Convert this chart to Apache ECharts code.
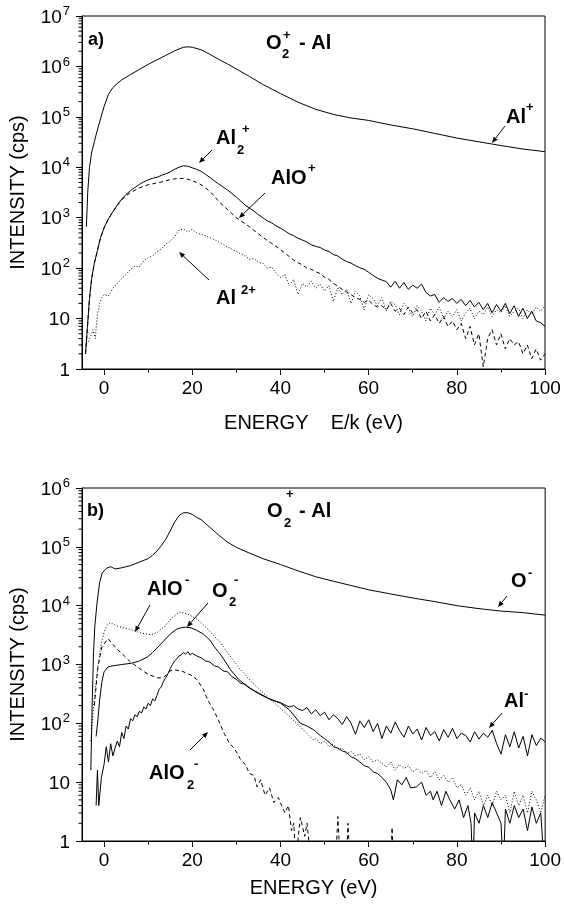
<!DOCTYPE html>
<html>
<head>
<meta charset="utf-8">
<script src="https://cdn.jsdelivr.net/npm/echarts@6/dist/echarts.min.js"></script>
<style>html,body{margin:0;padding:0;background:#fff}#c{width:564px;height:905px}</style>
</head>
<body>
<div id="c"></div>
<script>
// ---------------- DATA (energy eV, intensity cps) ----------------
// Panel a) positive ions
const alPlus = [[-4,660],[-3.7,3200],[-3.3,10000],[-2.8,20000],[-2.2,32000],[-1.7,48000],[-1,79000],[0,160000],[1,280000],[2,380000],[3,460000],[4,540000],[6,690000],[8,870000],[10,1100000],[12,1350000],[14,1660000],[16,2040000],[18,2400000],[19,2450000],[20,2400000],[22,2140000],[24,1740000],[26,1380000],[28,1120000],[30,890000],[33,630000],[36,440000],[40,290000],[44,195000],[48,141000],[52,112000],[56,95000],[60,85000],[65,69000],[70,58000],[75,47000],[80,38000],[85,32000],[90,27000],[95,23000],[100,20400]];

const al2Plus = [[-4.2,2],[-3.8,6.3],[-3.3,25],[-2.8,63],[-2.2,126],[-1.5,224],[-0.8,400],[0,630],[1,955],[2,1320],[3,1780],[4,2340],[5,2880],[6,3470],[7,3980],[8,4570],[9,5130],[10,5620],[11,6030],[12,6310],[13,6920],[14,7410],[15,8130],[16,9120],[17,10000],[18,10700],[19,10500],[20,9770],[21,9120],[22,8320],[23,7240],[24,6310],[25,5370],[26,4680],[27,4070],[28,3550],[29,3020],[30,2570],[31,2140],[32,1780],[33,1550],[34,1350],[35,1150],[36,1000],[37,870],[38,790],[39,690],[40,620],[41,550],[42,480],[43,440],[44,390],[45,360],[46,330],[47,290],[48,270],[49,257],[50,229],[51,214],[52,186],[53,174],[54,151],[55,135],[56,126],[57,112],[58,102],[59,95],[60,83],[61,72],[62,63],[63,58],[64,54],[65,42],[66,55],[67,40],[68,52],[69,38],[70,46],[71,40],[72,48],[73,33],[74,28],[75,30],[76,21],[77,26],[78,22],[79,25],[80,20],[81,24],[82,18],[83,23],[84,17],[85,21],[86,15],[87,20],[88,13],[89,19],[90,14],[91,20],[92,12.6],[93,18],[94,11],[95,16],[96,10],[97,14],[98,9],[99,8.3],[100,7]];

const aloPlus = [[-4.2,2],[-3.8,6],[-3.3,25],[-2.8,63],[-2.2,126],[-1.5,224],[-0.8,400],[0,630],[1,950],[2,1300],[3,1750],[4,2250],[5,2700],[6,3150],[7,3500],[8,3900],[9,4200],[10,4500],[11,4700],[12,4900],[13,5100],[14,5400],[15,5700],[16,5900],[17,6000],[18,6000],[19,5800],[20,5400],[21,5000],[22,4500],[23,3900],[24,3300],[25,2700],[26,2100],[27,1750],[28,1450],[29,1200],[30,1000],[31,870],[32,760],[33,660],[34,560],[35,480],[36,410],[37,355],[38,310],[39,270],[40,235],[41,200],[42,170],[43,145],[44,128],[45,115],[46,100],[47,95],[48,85],[49,78],[50,66],[51,60],[52,50],[53,44],[54,38],[55,34],[56,30],[57,26],[58,24],[59,21],[60,23],[61,19],[62,17],[63,18],[64,15],[65,20],[66,14],[67,16],[68,12],[69,17],[70,13],[71,15],[72,10],[73,14],[74,9],[75,12],[76,8],[77,11],[78,7],[79,9],[80,6],[81,8],[82,4],[83,7],[84,3],[85,5],[86,1.1],[87,4],[88,6],[89,3],[90,5],[91,2.5],[92,4],[93,3],[94,3.5],[95,2],[96,3],[97,1.6],[98,2.5],[99,1.5],[100,2]];

const al2p2 = [[-3.5,3.5],[-3,4.5],[-2.5,6],[-2,4],[-1.5,12],[-1,20],[-0.5,26],[0,30],[1,28],[2,40],[3,50],[4,62],[5,75],[6,95],[7,110],[8,105],[9,140],[10,160],[11,175],[12,210],[13,240],[14,300],[15,340],[16,420],[17,560],[18,600],[19,520],[20,590],[21,500],[22,470],[23,440],[24,400],[25,370],[26,330],[27,300],[28,260],[29,240],[30,215],[31,190],[32,175],[33,150],[34,155],[35,130],[36,125],[37,100],[38,105],[39,80],[40,66],[41,75],[42,45],[43,60],[44,30],[45,50],[46,42],[47,55],[48,40],[49,48],[50,35],[51,45],[52,22],[53,40],[54,30],[55,38],[56,20],[57,35],[58,28],[59,15],[60,30],[61,25],[62,18],[63,26],[64,14],[65,22],[66,19],[67,12],[68,20],[69,16],[70,11],[71,18],[72,14],[73,9],[74,16],[75,12],[76,17],[77,10],[78,14],[79,11],[80,15],[81,9],[82,13],[83,16],[84,10],[85,14],[86,12],[87,17],[88,11],[89,15],[90,13],[91,18],[92,11],[93,14],[94,16],[95,10],[96,15],[97,12],[98,17],[99,14],[100,18]];

// Panel b) negative ions
const oMinus = [[-3,16],[-2.7,200],[-2.4,1500],[-2.1,4400],[-1.6,11000],[-1,25000],[-0.4,36000],[0.5,43000],[1.5,46000],[2.5,42000],[4,44000],[6,48000],[8,55000],[10,63000],[11,72000],[12,85000],[13,105000],[14,135000],[15,186000],[16,263000],[17,340000],[18,380000],[19,380000],[20,355000],[21,316000],[22,290000],[24,214000],[26,158000],[28,120000],[30,98000],[33,78000],[36,63000],[40,50000],[44,39000],[48,31000],[52,26000],[56,22000],[60,18600],[65,15800],[70,13500],[75,11700],[80,10000],[85,8900],[90,8100],[95,7600],[100,6900]];

const o2Minus = [[-1.8,60],[-1.4,115],[-1,250],[-0.5,500],[0,750],[0.9,910],[2,950],[4,1000],[6.2,1050],[8,1150],[9.9,1350],[11,1600],[12,1900],[13.7,2600],[15,3300],[16.5,4000],[17.4,4200],[18.5,4300],[19.7,4200],[21,3800],[22.5,3300],[24,2600],[25,2000],[26.5,1450],[28.7,810],[30.5,560],[32.5,420],[35,320],[37,270],[40,220],[42,170],[44.5,100],[46,90],[47.5,78],[49,62],[50,55],[51,48],[52,40],[53,38],[54,34],[55,32],[56,27],[57,25],[58,22],[59,19],[60,18],[61,15],[62,14],[63,12],[64,10],[65,7.4],[65.6,5],[66.5,11],[67.5,9],[68.5,12],[69.5,8],[70.8,8.3],[72,10],[73,6],[74,7],[74.6,5],[75.5,7],[76.5,4],[77.5,7],[78.4,5],[79.5,3.5],[80.5,5],[81.5,2.5],[82.5,4],[83.2,2],[83.6,0.3],[84,3],[85,2],[86,4],[87,2.5],[88,4.5],[89,3],[90,2],[90.5,0.3],[91,3.5],[92,2],[93,4],[94,2.5],[95,3.5],[96,1.5],[97,3.8],[98,2],[99,3],[99.7,0.5]];

const aloMinus = [[-3,50],[-2.5,150],[-2.1,320],[-1.5,800],[-1,1500],[-0.6,2300],[0,3500],[0.6,4600],[1.3,5100],[2,4900],[3,4500],[4.5,4200],[6.2,3900],[8.5,3400],[10.7,3200],[12,3500],[13.7,4400],[15.5,6300],[17.1,7800],[19,7200],[21.2,5800],[23.5,4000],[26.5,2300],[28.5,1400],[31,810],[33.5,500],[36.2,320],[40,180],[44,95],[47.5,52],[48,55],[49,45],[50,50],[51,40],[52,45],[53,35],[54,38],[55,30],[56,34],[57,28],[58,30],[59,24],[60,27],[61,22],[62,24],[63,21],[64,18],[65,22],[66,16],[67,20],[68,17],[69,19],[70,15],[71,17],[72,14],[73,16],[74,12],[75,15],[76,11],[77,13],[78,10],[79,12],[80,8],[81,9],[82,6],[83,8],[84,5],[85,7],[86,4],[87,6],[88,4],[89,7],[90,5],[91,6],[92,3],[93,7],[94,4],[95,6],[96,3],[97,7],[98,5],[99,3],[100,6]];

const alo2Minus = [[-2.2,200],[-1.4,900],[-0.5,2000],[0.9,2750],[2,2200],[3,1800],[4,1550],[6,1100],[8.5,810],[10,680],[12.2,590],[13.5,600],[15,780],[15.9,810],[17.5,780],[19.7,660],[21,560],[22.5,380],[23.5,250],[25,160],[26,110],[27.2,68],[28.5,45],[29.5,38],[31,24],[32,20],[33,14],[34,13],[34.7,8.3],[35.5,11],[36.5,6],[37.5,8],[38.5,4.5],[39.5,5.5],[40,4.4],[41,3],[41.8,4],[42.5,1.5],[43,2],[43.5,0.5],[44.5,2.5],[45.5,1.2],[46,2],[47,0.4],[52.5,0.4],[53,2.6],[53.5,0.5],[55,0.5],[55.3,2],[55.7,0.5],[65,0.5],[65.3,1.7],[65.6,0.5],[70,0.3]];

const alMinus = [[-1.8,4],[-1.5,16],[-1.2,4],[-0.9,4],[-0.6,12],[0,20],[0.5,40],[1,22],[1.5,45],[2,28],[2.5,38],[3,50],[3.5,40],[4,70],[4.5,55],[5,90],[5.5,80],[6,120],[6.5,110],[7,140],[7.5,130],[8,160],[8.5,150],[9,190],[9.5,175],[10,220],[10.5,200],[11,260],[11.5,240],[12,300],[12.5,380],[13,420],[13.5,520],[14,600],[14.5,700],[15,850],[15.5,1000],[16,1150],[16.5,1250],[17,1400],[17.5,1450],[18,1600],[18.5,1500],[19,1650],[19.5,1450],[20,1550],[21,1400],[22,1300],[23,1150],[24,1100],[25,950],[26,900],[27,780],[28,750],[29,620],[30,560],[31,480],[32,460],[33,400],[34,360],[35,330],[36,300],[37,270],[38,250],[39,235],[40,225],[41,205],[42,190],[43,200],[44,175],[45,165],[46,185],[47,145],[48,170],[49,135],[50,155],[51,115],[52,140],[53,120],[54,95],[55,130],[56,100],[57,65],[58,110],[59,85],[60,115],[61,72],[62,100],[63,55],[64,90],[65,68],[66,105],[67,75],[68,58],[69,90],[70,66],[71,80],[72,52],[73,85],[74,62],[75,72],[76,50],[77,78],[78,58],[79,82],[80,55],[81,68],[82,62],[83,48],[84,72],[85,54],[86,68],[87,58],[88,76],[89,45],[90,30],[91,64],[92,40],[93,72],[94,38],[95,60],[96,28],[97,64],[98,42],[99,56],[100,48]];

// Axis ticks
const xMajorTicks = [0, 20, 40, 60, 80, 100];
const xMinorTicks = [10, 30, 50, 70, 90];
const decadesA = [1, 10, 100, 1000, 10000, 100000, 1000000];
const decadesB = [1, 10, 100, 1000, 10000, 100000];
const minorMult = [2, 3, 4, 5, 6, 7, 8, 9];

// ---------------- CHART ----------------
const FF = "'Liberation Sans', Arial, sans-serif";
const chart = echarts.init(document.getElementById('c'), null, {renderer: 'canvas'});

function yFormatter(v) {
  const e = Math.round(Math.log10(v));
  if (e === 0) return '{b|1}';
  if (e === 1) return '{b|10}';
  return '{b|10}{s|' + e + '}';
}
const yRich = {
  b: {fontSize: 19, fontFamily: FF, color: '#000', lineHeight: 22, verticalAlign: 'bottom'},
  s: {fontSize: 13, fontFamily: FF, color: '#000', lineHeight: 22, verticalAlign: 'top', padding: [0, 0, 0, 1]}
};

function xAxisMain(grid, name, gap) {
  return {
    type: 'value', gridIndex: grid, position: 'bottom', min: -5, max: 100,
    name: name, nameLocation: 'middle', nameGap: gap,
    nameTextStyle: {fontSize: 20, fontFamily: FF, color: '#000'},
    axisLine: {show: true, onZero: false, lineStyle: {color: '#000', width: 1}},
    axisTick: {show: true, inside: false, length: 6, lineStyle: {color: '#000'}, customValues: xMajorTicks},
    axisLabel: {show: true, fontSize: 19, fontFamily: FF, color: '#000', margin: 10, customValues: xMajorTicks},
    splitLine: {show: false}
  };
}
function xAxisMinor(grid) {
  return {
    type: 'value', gridIndex: grid, position: 'bottom', offset: 0, min: -5, max: 100,
    axisLine: {show: false, onZero: false},
    axisTick: {show: true, inside: false, length: 3.5, lineStyle: {color: '#000'}, customValues: xMinorTicks},
    axisLabel: {show: false},
    splitLine: {show: false}
  };
}
function yAxisMain(grid, max) {
  return {
    type: 'log', logBase: 10, gridIndex: grid, min: 1, max: max,
    name: 'INTENSITY (cps)', nameLocation: 'middle', nameGap: 54, nameRotate: 90,
    nameTextStyle: {fontSize: 20, fontFamily: FF, color: '#000'},
    axisLine: {show: true, onZero: false, lineStyle: {color: '#000', width: 1}},
    axisTick: {show: true, inside: false, length: 6, lineStyle: {color: '#000'}},
    axisLabel: {show: true, margin: 12, formatter: yFormatter, rich: yRich},
    splitLine: {show: false}, minorTick: {show: false}
  };
}

function lineSeries(name, data, grid, type) {
  return {
    name: name, type: 'line', data: data, xAxisIndex: grid * 2, yAxisIndex: grid,
    showSymbol: false, symbol: 'none', clip: true, animation: false,
    lineStyle: {color: '#000', width: 1, type: type},
    emphasis: {disabled: true}
  };
}

function minorTickData(decades) {
  const out = [];
  decades.forEach(d => minorMult.forEach(m => out.push([-5, d * m])));
  return out;
}
function minorTickSeries(grid, decades) {
  return {
    type: 'custom', xAxisIndex: grid * 2, yAxisIndex: grid, clip: false, silent: true, animation: false,
    encode: {x: 0, y: 1}, z: 10,
    data: minorTickData(decades),
    renderItem: function (params, api) {
      const p = api.coord([api.value(0), api.value(1)]);
      return {type: 'line', shape: {x1: p[0] - 3.5, y1: p[1], x2: p[0], y2: p[1]},
        style: {stroke: '#000', lineWidth: 1}};
    }
  };
}

// annotations
function txt(x, y, s, size, weight) {
  return {type: 'text', x: x, y: y, z: 100,
    style: {text: s, fill: '#000', font: (weight || 'bold') + ' ' + size + 'px ' + FF, verticalAlign: 'middle', align: 'left'}};
}
function arrow(x1, y1, x2, y2) {
  const a = Math.atan2(y2 - y1, x2 - x1), L = 6, W = 2.5;
  const bx = x2 - L * Math.cos(a), by = y2 - L * Math.sin(a);
  return [
    {type: 'line', z: 100, shape: {x1: x1, y1: y1, x2: bx, y2: by}, style: {stroke: '#000', lineWidth: 1}},
    {type: 'polygon', z: 100, shape: {points: [[x2, y2], [bx + W * Math.sin(a), by - W * Math.cos(a)], [bx - W * Math.sin(a), by + W * Math.cos(a)]]}, style: {fill: '#000'}}
  ];
}

const graphics = [
  // panel a
  txt(88, 40, 'a)', 18),
  txt(266, 43, 'O', 20), txt(282, 54, '2', 13), txt(283, 35, '+', 13), txt(299, 43, '- Al', 20),
  txt(506, 117, 'Al', 20), txt(526, 107, '+', 13),
  ...arrow(505, 126, 492, 143),
  txt(216, 138, 'Al', 20), txt(237, 150, '2', 13), txt(242, 129, '+', 13),
  ...arrow(212, 150, 199, 163),
  txt(271, 178, 'AlO', 20), txt(308, 168, '+', 13),
  ...arrow(265, 193, 239, 218),
  txt(216, 298, 'Al', 20), txt(241, 290, '2+', 13),
  ...arrow(209, 280, 179, 252),
  // panel b
  txt(87, 511, 'b)', 18),
  txt(267, 511, 'O', 20), txt(284, 523, '2', 13), txt(286, 494, '+', 13), txt(299, 511, '- Al', 20),
  txt(511, 581, 'O', 20), txt(528, 573, '-', 13),
  ...arrow(507, 596, 498, 607),
  txt(147, 589, 'AlO', 20), txt(185, 580, '-', 13),
  ...arrow(150, 605, 135, 632),
  txt(212, 591, 'O', 20), txt(229, 602, '2', 13), txt(234, 580, '-', 13),
  ...arrow(208, 603, 187, 627),
  txt(149, 773, 'AlO', 20), txt(187, 785, '2', 13), txt(194, 764, '-', 13),
  ...arrow(190, 750, 208, 732),
  txt(504, 701, 'Al', 20), txt(524, 694, '-', 13),
  ...arrow(502, 713, 489, 728)
];

chart.setOption({
  animation: false,
  backgroundColor: '#fff',
  textStyle: {fontFamily: FF},
  grid: [
    {left: 81, top: 16, width: 464, height: 353, show: true, borderColor: '#000', borderWidth: 1, backgroundColor: 'transparent'},
    {left: 81, top: 488, width: 465, height: 353, show: true, borderColor: '#000', borderWidth: 1, backgroundColor: 'transparent'}
  ],
  xAxis: [xAxisMain(0, 'ENERGY    E/k (eV)', 44), xAxisMinor(0), xAxisMain(1, 'ENERGY (eV)', 37), xAxisMinor(1)],
  yAxis: [yAxisMain(0, 10000000), yAxisMain(1, 1000000)],
  series: [
    lineSeries('Al+', alPlus, 0, 'solid'),
    lineSeries('Al2+', al2Plus, 0, 'solid'),
    lineSeries('AlO+', aloPlus, 0, [4, 3]),
    lineSeries('Al2++', al2p2, 0, [1, 2]),
    minorTickSeries(0, decadesA),
    lineSeries('O-', oMinus, 1, 'solid'),
    lineSeries('O2-', o2Minus, 1, 'solid'),
    lineSeries('AlO-', aloMinus, 1, [1, 2]),
    lineSeries('AlO2-', alo2Minus, 1, [4, 3]),
    lineSeries('Al-', alMinus, 1, 'solid'),
    minorTickSeries(1, decadesB)
  ],
  graphic: graphics
});
</script>
</body>
</html>
